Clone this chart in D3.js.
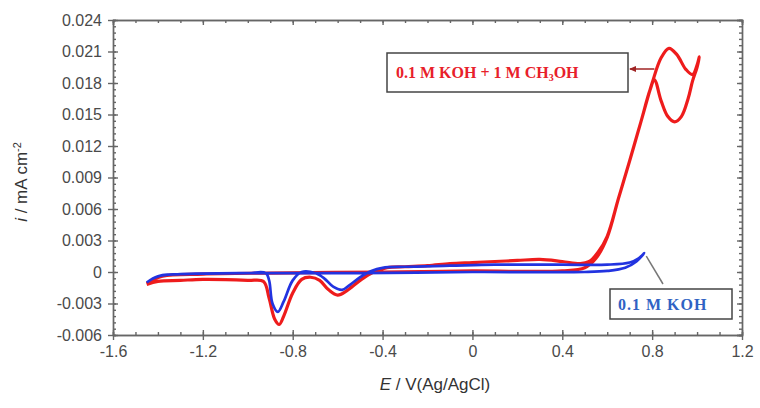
<html lang="en">
<head>
  <meta charset="UTF-8" />
  <title>CV KOH / methanol</title>
  <script src="https://d3js.org/d3.v7.min.js"></script>
  <style>
    body { margin: 0; background: #fff; }
    text { font-family: Arial, "Liberation Sans", sans-serif; }
    .axis path, .axis line { stroke: #666; stroke-width: 1.4px; }
    .axis text { fill: #4a4a4a; font-size: 16px; }
    .legend { font-family: "Times New Roman", "Liberation Serif", serif; font-weight: bold; }
  </style>
</head>
<body>
  <svg id="cv" width="760" height="408"></svg>
  <script>
    // potential E (V vs Ag/AgCl) and current i (mA cm-2)
    const redE = [-1.45, -1.40, -1.30, -1.20, -1.00, -0.93, -0.905, -0.88, -0.86, -0.84, -0.80, -0.76, -0.72,
      -0.68, -0.64, -0.60, -0.56, -0.50, -0.44, -0.38, -0.30, -0.20, -0.10, 0.00, 0.10, 0.20, 0.30, 0.40, 0.48,
      0.52, 0.56, 0.60, 0.65, 0.70, 0.75, 0.80, 0.84, 0.875, 0.91, 0.95, 0.98, 1.00, 1.01,
      1.00, 0.98, 0.96, 0.93, 0.90, 0.87, 0.84, 0.81, 0.79, 0.75, 0.70, 0.65, 0.60, 0.55, 0.50, 0.40,
      0.00, -0.40, -0.90, -1.20, -1.38, -1.45];
    const redI = [-0.0012, -0.0009, -0.0008, -0.0007, -0.0008, -0.0009, -0.0025, -0.0045, -0.0050, -0.0042, -0.0020, -0.0007, -0.0005,
      -0.0008, -0.0017, -0.0022, -0.0018, -0.0008, 0.0000, 0.0004, 0.0005, 0.0006, 0.0008, 0.0009, 0.0010, 0.0011, 0.0012, 0.0010, 0.0008,
      0.0010, 0.0019, 0.0034, 0.0070, 0.0106, 0.0143, 0.0180, 0.0204, 0.0213, 0.0207, 0.0193, 0.0188, 0.0197, 0.0205,
      0.0195, 0.0182, 0.0165, 0.0148, 0.0143, 0.0148, 0.0163, 0.0183, 0.0173, 0.0143, 0.0106, 0.0070, 0.0033, 0.0013, 0.0004, 0.0001,
      0.0001, 0.0000, -0.0001, -0.0002, -0.0004, -0.0011];

    const blueE = [-1.45, -1.42, -1.38, -1.30, -1.00, -0.50, 0.00, 0.50, 0.60, 0.68, 0.73, 0.765,
      0.74, 0.70, 0.60, 0.40, 0.10, -0.10, -0.30, -0.40, -0.45, -0.50, -0.55, -0.58, -0.62, -0.66, -0.70,
      -0.76, -0.80, -0.84, -0.866, -0.89, -0.905, -0.92, -1.00, -1.30, -1.40, -1.45];
    const blueI = [-0.0010, -0.0006, -0.0003, -0.0002, -0.0001, -0.0001, 0.0000, 0.0000, 0.0001, 0.0004, 0.0010, 0.0018,
      0.0013, 0.0009, 0.0007, 0.0007, 0.0007, 0.0006, 0.0005, 0.0004, 0.0001, -0.0005, -0.0013, -0.0017, -0.0014, -0.0006, -0.0001,
      0.0000, -0.0008, -0.0028, -0.0038, -0.0030, -0.0008, -0.0001, -0.0001, -0.0002, -0.0004, -0.0010];

    const xTicks = [-1.6, -1.2, -0.8, -0.4, 0, 0.4, 0.8, 1.2];
    const yTicks = [-0.006, -0.003, 0, 0.003, 0.006, 0.009, 0.012, 0.015, 0.018, 0.021, 0.024];

    const svg = d3.select("svg#cv");
    const margin = { top: 20, right: 18, bottom: 73, left: 113 };
    const width = +svg.attr("width");
    const height = +svg.attr("height");
    const chartWidth = width - margin.left - margin.right;
    const chartHeight = height - margin.top - margin.bottom;

    const x = d3.scaleLinear().domain([-1.6, 1.2]).range([0, chartWidth]);
    const y = d3.scaleLinear().domain([-0.006, 0.024]).range([chartHeight, 0]);

    const chart = svg.append("g").attr("transform", `translate(${margin.left},${margin.top})`);

    const fmtX = d => (d === 0 ? "0" : d.toFixed(1));
    const fmtY = d => (d === 0 ? "0" : d.toFixed(3));

    // minor ticks
    const xMinor = d3.range(-1.6, 1.2001, 0.1);
    const yMinor = d3.range(-0.006, 0.02401, 0.0006);

    chart.append("g").attr("class", "axis")
      .attr("transform", `translate(0,${chartHeight})`)
      .call(d3.axisBottom(x).tickValues(xMinor).tickSize(-3).tickFormat(""));
    chart.append("g").attr("class", "axis")
      .call(d3.axisTop(x).tickValues(xMinor).tickSize(-3).tickFormat(""));
    chart.append("g").attr("class", "axis")
      .call(d3.axisLeft(y).tickValues(yMinor).tickSize(-3).tickFormat(""));
    chart.append("g").attr("class", "axis")
      .attr("transform", `translate(${chartWidth},0)`)
      .call(d3.axisRight(y).tickValues(yMinor).tickSize(-3).tickFormat(""));

    // major ticks
    const bottomAxis = chart.append("g").attr("class", "axis")
      .attr("transform", `translate(0,${chartHeight})`)
      .call(d3.axisBottom(x).tickValues(xTicks).tickSizeInner(5).tickSizeOuter(0).tickPadding(6).tickFormat(fmtX));
    bottomAxis.selectAll(".tick line").attr("y1", -5);
    const leftAxis = chart.append("g").attr("class", "axis")
      .call(d3.axisLeft(y).tickValues(yTicks).tickSizeInner(5).tickSizeOuter(0).tickPadding(6).tickFormat(fmtY));
    leftAxis.selectAll(".tick line").attr("x1", 5);
    chart.append("g").attr("class", "axis")
      .call(d3.axisTop(x).tickValues(xTicks).tickSize(-5).tickFormat(""));
    chart.append("g").attr("class", "axis")
      .attr("transform", `translate(${chartWidth},0)`)
      .call(d3.axisRight(y).tickValues(yTicks).tickSize(-5).tickFormat(""));

    // curves
    const line = d3.line()
      .x(d => x(d[0]))
      .y(d => y(d[1]))
      .curve(d3.curveCatmullRom.alpha(0.5));

    const redData = redE.map((e, k) => [e, redI[k]]);
    const blueData = blueE.map((e, k) => [e, blueI[k]]);

    chart.append("path").datum(redData)
      .attr("d", line)
      .attr("fill", "none")
      .attr("stroke", "#ee1c1c")
      .attr("stroke-width", 3.2)
      .attr("stroke-linejoin", "round");

    chart.append("path").datum(blueData)
      .attr("d", line)
      .attr("fill", "none")
      .attr("stroke", "#2233e0")
      .attr("stroke-width", 2.7)
      .attr("stroke-linejoin", "round");

    // legend boxes
    const leg1 = svg.append("g");
    leg1.append("rect")
      .attr("x", 387).attr("y", 53).attr("width", 241).attr("height", 39)
      .attr("fill", "#fff").attr("stroke", "#444").attr("stroke-width", 1.5);
    const t1 = leg1.append("text").attr("class", "legend")
      .attr("x", 396).attr("y", 78)
      .attr("font-size", 16)
      .attr("fill", "#e8202a");
    t1.append("tspan").text("0.1 M KOH + 1 M CH");
    t1.append("tspan").attr("font-size", 10).attr("dy", 3).text("3");
    t1.append("tspan").attr("dy", -3).text("OH");
    leg1.append("line")
      .attr("x1", 630).attr("y1", 69).attr("x2", x(0.81) + margin.left).attr("y2", 69)
      .attr("stroke", "#a02424").attr("stroke-width", 1.5);
    leg1.append("path")
      .attr("d", "M629,69 L636,66 L636,72 Z")
      .attr("fill", "#a02424");

    const leg2 = svg.append("g");
    leg2.append("rect")
      .attr("x", 610).attr("y", 289).attr("width", 122).attr("height", 30)
      .attr("fill", "#fff").attr("stroke", "#444").attr("stroke-width", 1.5);
    leg2.append("text").attr("class", "legend")
      .attr("x", 618).attr("y", 310)
      .attr("font-size", 16)
      .attr("letter-spacing", 1)
      .attr("fill", "#2f62c4")
      .text("0.1 M KOH");
    leg2.append("line")
      .attr("x1", x(0.765) + margin.left + 2).attr("y1", y(0.0018) + margin.top + 3)
      .attr("x2", 663).attr("y2", 284)
      .attr("stroke", "#777").attr("stroke-width", 1.5);

    // axis labels
    const xl = svg.append("text")
      .attr("x", 435).attr("y", 390)
      .attr("text-anchor", "middle")
      .attr("font-size", 17)
      .attr("fill", "#333");
    xl.append("tspan").attr("font-style", "italic").text("E");
    xl.append("tspan").text(" / V(Ag/AgCl)");

    const yl = svg.append("text")
      .attr("transform", "translate(27,182) rotate(-90)")
      .attr("text-anchor", "middle")
      .attr("font-size", 17)
      .attr("fill", "#333");
    yl.append("tspan").attr("font-style", "italic").text("i");
    yl.append("tspan").text(" / mA cm");
    yl.append("tspan").attr("font-size", 11).attr("dy", -6).text("-2");
  </script>
</body>
</html>
